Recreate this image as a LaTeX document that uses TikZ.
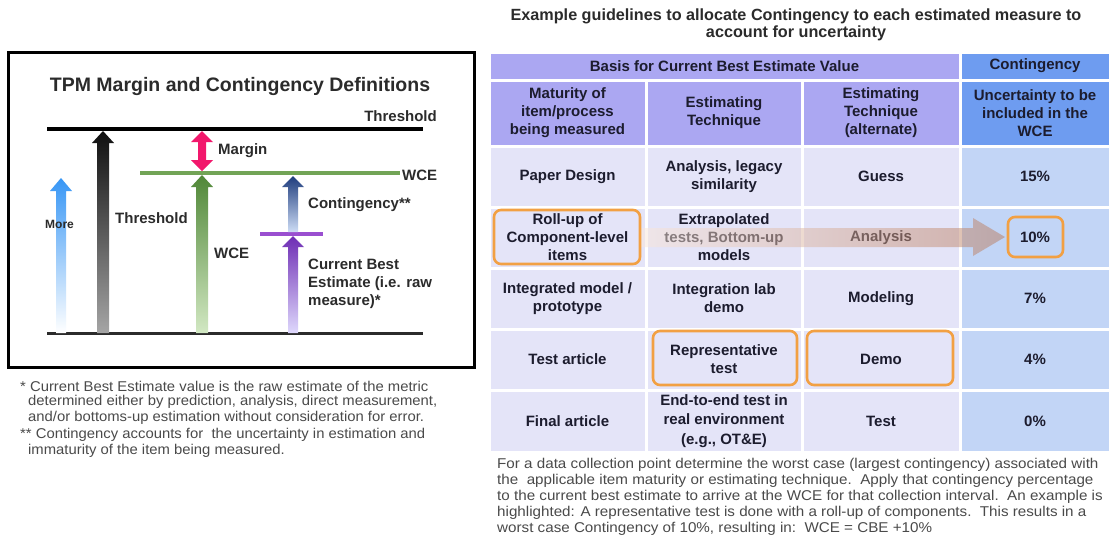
\documentclass[tikz,border=0pt]{standalone}
\usepackage{graphicx}
\usepackage{fontspec}
\setmainfont{Liberation Sans}
\definecolor{labgray}{HTML}{2B2B2B}
\definecolor{notegray}{HTML}{4A4A4A}
\definecolor{celltext}{HTML}{1C1C2E}
\definecolor{hdr}{HTML}{ABA7F2}
\definecolor{hdrblue}{HTML}{6E9CF0}
\definecolor{body}{HTML}{E4E4F8}
\definecolor{bodyblue}{HTML}{C2D5F6}
\definecolor{hlorange}{HTML}{F2A043}
\definecolor{wcegreen}{HTML}{72A456}
\definecolor{cbepurple}{HTML}{9A4FD0}
\definecolor{marginpink}{HTML}{F2186C}
\newcommand\upblock[7]{%
  \shade[#7] ({#1-#4},{#3}) -- ({#1-#4},{#2+#6}) -- ({#1-#5},{#2+#6}) -- ({#1},{#2})
   -- ({#1+#5},{#2+#6}) -- ({#1+#4},{#2+#6}) -- ({#1+#4},{#3}) -- cycle;}
\newcommand\xwideL[1]{\scalebox{1.045}[1]{#1}}
\newcommand\xwideR[1]{\scalebox{1.07}[1]{#1}}
\begin{document}
\begin{tikzpicture}[x=1pt,y=-1pt,
  lab/.style={font=\bfseries\fontsize{15}{18}\selectfont, text=labgray, inner sep=0pt, anchor=west, align=left},
  cell/.style={draw=white, line width=3pt, inner sep=2pt, align=center, text=celltext,
     font=\bfseries\fontsize{15}{18}\selectfont},
  hl/.style={draw=hlorange, line width=2.6pt, rounded corners=7pt},
  note/.style={font=\fontsize{14.2}{16}\selectfont, text=notegray, inner sep=0pt, anchor=west}]
\useasboundingbox (0,0) rectangle (1110,547);
\fill[white] (0,0) rectangle (1110,547);

% ---------------- left diagram ----------------
\draw[line width=3pt] (8,52) rectangle (474,367);
\node[font=\bfseries\fontsize{19.5}{22}\selectfont, text=labgray, inner sep=0pt] (title) at (240,86) {TPM Margin and Contingency Definitions};
\draw[line width=4pt] (47,129) -- (423,129);
\draw[line width=3pt, labgray] (47,333) -- (423,333);
\draw[line width=4pt, wcegreen] (140,173) -- (400,173);
\draw[line width=4pt, cbepurple] (260,234) -- (323,234);

\upblock{61}{178}{333}{5}{11}{13}{top color={rgb,255:red,55;green,150;blue,245}, bottom color=white}
\upblock{103}{131}{333}{6}{11}{12}{top color={rgb,255:red,15;green,15;blue,15}, bottom color={rgb,255:red,165;green,165;blue,165}}
\upblock{202}{175}{333}{6}{11}{12}{top color={rgb,255:red,80;green,135;blue,55}, bottom color={rgb,255:red,210;green,232;blue,195}}
\upblock{293}{176}{232}{5}{11}{11}{top color={rgb,255:red,30;green,60;blue,125}, bottom color={rgb,255:red,205;green,220;blue,245}}
\upblock{293}{236}{333}{5}{11}{11}{top color={rgb,255:red,110;green,45;blue,180}, bottom color={rgb,255:red,222;green,216;blue,252}}
\fill[marginpink] (202,131) -- (213,142) -- (206,142) -- (206,160) -- (213,160) -- (202,171)
   -- (191,160) -- (198,160) -- (198,142) -- (191,142) -- cycle;

\node[lab, anchor=east] (thtop) at (437,116) {Threshold};
\node[lab] (margin) at (218,151) {Margin};
\node[lab] (wcetop) at (402,175) {WCE};
\node[lab] (cont) at (308,205) {Contingency**};
\node[lab] (thleft) at (115,218) {Threshold};
\node[lab, font=\bfseries\fontsize{12}{14}\selectfont] (more) at (45,224) {More};
\node[lab] (wcemid) at (214,253) {WCE};
\node[lab, anchor=north west] (cbe) at (308,259) {Current Best\\Estimate (i.e. raw\\measure)*};

\node[note] (n1) at (20,386) {\xwideL{* Current Best Estimate value is the raw estimate of the metric}};
\node[note] (n2) at (28,402) {\xwideL{determined either by prediction, analysis, direct measurement,}};
\node[note] (n3) at (28,418) {\xwideL{and/or bottoms-up estimation without consideration for error.}};
\node[note] (n4) at (20,435) {\xwideL{** Contingency accounts for\ \ the uncertainty in estimation and}};
\node[note] (n5) at (28,451) {\xwideL{immaturity of the item being measured.}};

% ---------------- right table ----------------
\node[font=\bfseries\fontsize{16.2}{16.5}\selectfont, text=labgray, align=center, inner sep=0pt] (ttitle) at (796,25)
  {Example guidelines to allocate Contingency to each estimated measure to\\account for uncertainty};

\node[cell, fill=hdr, minimum width=471pt, minimum height=28pt] (h1) at (724.5,66) {Basis for Current Best Estimate Value};
\node[cell, fill=hdrblue, minimum width=150pt, minimum height=28pt] (h1c) at (1035,66) {Contingency};

\node[cell, fill=hdr, minimum width=157pt, minimum height=66pt] (h21) at (567.5,113) {Maturity of\\item/process\\being measured};
\node[cell, fill=hdr, minimum width=156pt, minimum height=66pt] (h22) at (724,113) {Estimating\\Technique};
\node[cell, fill=hdr, minimum width=158pt, minimum height=66pt] (h23) at (881,113) {Estimating\\Technique\\(alternate)};
\node[cell, fill=hdrblue, minimum width=150pt, minimum height=66pt] (h24) at (1035,113) {Uncertainty to be\\included in the\\WCE};

% row 1
\node[cell, fill=body, minimum width=157pt, minimum height=61pt] (a1) at (567.5,176.5) {Paper Design};
\node[cell, fill=body, minimum width=156pt, minimum height=61pt] (b1) at (724,176.5) {Analysis, legacy\\similarity};
\node[cell, fill=body, minimum width=158pt, minimum height=61pt] (c1) at (881,176.5) {Guess};
\node[cell, fill=bodyblue, minimum width=150pt, minimum height=61pt] (d1) at (1035,176.5) {15\%};
% row 2
\node[cell, fill=body, minimum width=157pt, minimum height=61pt] (a2) at (567.5,237.5) {Roll-up of\\Component-level\\items};
\node[cell, fill=body, minimum width=156pt, minimum height=61pt] (b2) at (724,237.5) {Extrapolated\\tests, Bottom-up\\models};
\node[cell, fill=body, minimum width=158pt, minimum height=61pt] (c2) at (881,237.5) {Analysis};
\node[cell, fill=bodyblue, minimum width=150pt, minimum height=61pt] (d2) at (1035,237.5) {10\%};
% row 3
\node[cell, fill=body, minimum width=157pt, minimum height=61pt] (a3) at (567.5,298.5) {Integrated model /\\prototype};
\node[cell, fill=body, minimum width=156pt, minimum height=61pt] (b3) at (724,298.5) {Integration lab\\demo};
\node[cell, fill=body, minimum width=158pt, minimum height=61pt] (c3) at (881,298.5) {Modeling};
\node[cell, fill=bodyblue, minimum width=150pt, minimum height=61pt] (d3) at (1035,298.5) {7\%};
% row 4
\node[cell, fill=body, minimum width=157pt, minimum height=61pt] (a4) at (567.5,359.5) {Test article};
\node[cell, fill=body, minimum width=156pt, minimum height=61pt] (b4) at (724,359.5) {Representative\\test};
\node[cell, fill=body, minimum width=158pt, minimum height=61pt] (c4) at (881,359.5) {Demo};
\node[cell, fill=bodyblue, minimum width=150pt, minimum height=61pt] (d4) at (1035,359.5) {4\%};
% row 5
\node[cell, fill=body, minimum width=157pt, minimum height=62pt] (a5) at (567.5,421) {Final article};
\node[cell, fill=body, minimum width=156pt, minimum height=62pt, font=\bfseries\fontsize{15}{19.5}\selectfont] (b5) at (724,421) {End-to-end test in\\real environment\\(e.g., OT\&E)};
\node[cell, fill=body, minimum width=158pt, minimum height=62pt] (c5) at (881,421) {Test};
\node[cell, fill=bodyblue, minimum width=150pt, minimum height=62pt] (d5) at (1035,421) {0\%};

% highlight arrow
\shade[left color={rgb,255:red,250;green,232;blue,220}, right color={rgb,255:red,185;green,122;blue,92}, fill opacity=0.5]
  (641,228) -- (973,228) -- (973,218) -- (1005,237) -- (973,256) -- (973,247) -- (641,247) -- cycle;

% orange highlight boxes
\draw[hl] (494,210) rectangle (640,264);
\draw[hl] (1008,217) rectangle (1063,257);
\draw[hl] (653,331) rectangle (797,385);
\draw[hl] (807,331) rectangle (953,385);

\node[note] (t1) at (497,465) {\xwideR{For a data collection point determine the worst case (largest contingency) associated with}};
\node[note] (t2) at (497,481) {\xwideR{the\ \ applicable item maturity or estimating technique.\ \ Apply that contingency percentage}};
\node[note] (t3) at (497,497) {\xwideR{to the current best estimate to arrive at the WCE for that\ collection interval.\ \ An example is}};
\node[note] (t4) at (497,513) {\xwideR{highlighted: A representative test is done with a roll-up of components.\ \ This results in a}};
\node[note] (t5) at (497,529) {\xwideR{worst case Contingency of 10\%, resulting in:\ \ WCE = CBE +10\%}};
\end{tikzpicture}
\end{document}
